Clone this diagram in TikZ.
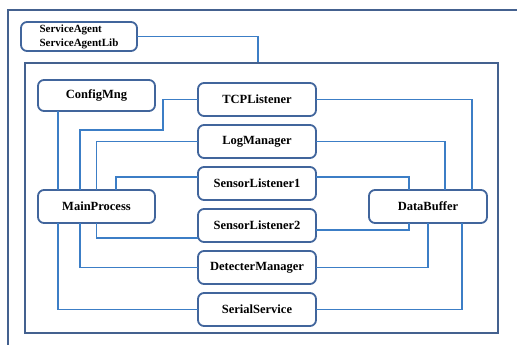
\documentclass[tikz,border=0pt]{standalone}
\usepackage{fontspec}
\setmainfont{Liberation Serif}
\usetikzlibrary{positioning}
\definecolor{BoxLine}{HTML}{41659C}
\definecolor{Wire}{HTML}{3C7EC6}
\definecolor{Frame}{HTML}{44618F}

\begin{document}
\begin{tikzpicture}[x=1pt,y=-1pt,
          module/.style={draw=BoxLine,line width=1.8pt,rounded corners=6pt,fill=white,
            minimum width=118pt,minimum height=33pt,inner sep=0pt,outer sep=0pt,
            font=\fontsize{12.5}{14}\selectfont\bfseries},
          wire/.style={draw=Wire,line width=1.8pt},
          host/.style={draw=Frame,line width=1.8pt,minimum width=473pt,minimum height=270pt,inner sep=0pt}]
        \useasboundingbox (0,0) rectangle (517,345);
        % outer border, only top and left edge are visible
        \draw[Frame,line width=1.8pt] (8,345) -- (8,10) -- (517,10);
        % service host frame
        \node[host] (frame) at (261.5,198) {};
        \node[module,minimum width=116pt,minimum height=29pt,align=left,
          font=\fontsize{11}{14}\selectfont\bfseries] (agent) at (79,36.5)
          {ServiceAgent\\ServiceAgentLib};
        % left column
        \node[module,minimum width=117pt,minimum height=31pt] (config) at (96.5,95.5) {ConfigMng};
        \node[module,minimum width=117pt] (main) at (96.5,206.5) {MainProcess};
        % middle column
        \node[module] (tcp) at (257,99.5) {TCPListener};
        \node[module,below=9pt of tcp] (log) {LogManager};
        \node[module,below=9pt of log] (sens1) {SensorListener1};
        \node[module,below=9pt of sens1] (sens2) {SensorListener2};
        \node[module,below=9pt of sens2] (detect) {DetecterManager};
        \node[module,below=9pt of detect] (serial) {SerialService};
        % right column
        \node[module] (buffer) at (428,206.5) {DataBuffer};

        % agent to frame
        \draw[wire] (agent.east) -| ([xshift=-3.5pt]frame.north);
        % links to MainProcess
        \draw[wire] ([xshift=-38.5pt]config.south) -- ([xshift=-38.5pt]main.north);
        \draw[wire] (tcp.west) -| (163,130) -| ([xshift=-16.5pt]main.north);
        \draw[wire] (log.west) -| (main.north);
        \draw[wire] ([yshift=6.5pt]sens1.west) -| ([xshift=19.5pt]main.north);
        \draw[wire] ([yshift=-12.5pt]sens2.west) -| (main.south);
        \draw[wire] (detect.west) -| ([xshift=-16.5pt]main.south);
        \draw[wire] (serial.west) -| ([xshift=-38.5pt]main.south);
        % links to DataBuffer
        \draw[wire] (tcp.east) -| ([xshift=44pt]buffer.north);
        \draw[wire] (log.east) -| ([xshift=17pt]buffer.north);
        \draw[wire] ([yshift=6.5pt]sens1.east) -| ([xshift=-19pt]buffer.north);
        \draw[wire] ([yshift=-4.5pt]sens2.east) -| ([xshift=-19pt]buffer.south);
        \draw[wire] (detect.east) -| (buffer.south);
        \draw[wire] (serial.east) -| ([xshift=34pt]buffer.south);
      \end{tikzpicture}
\end{document}
